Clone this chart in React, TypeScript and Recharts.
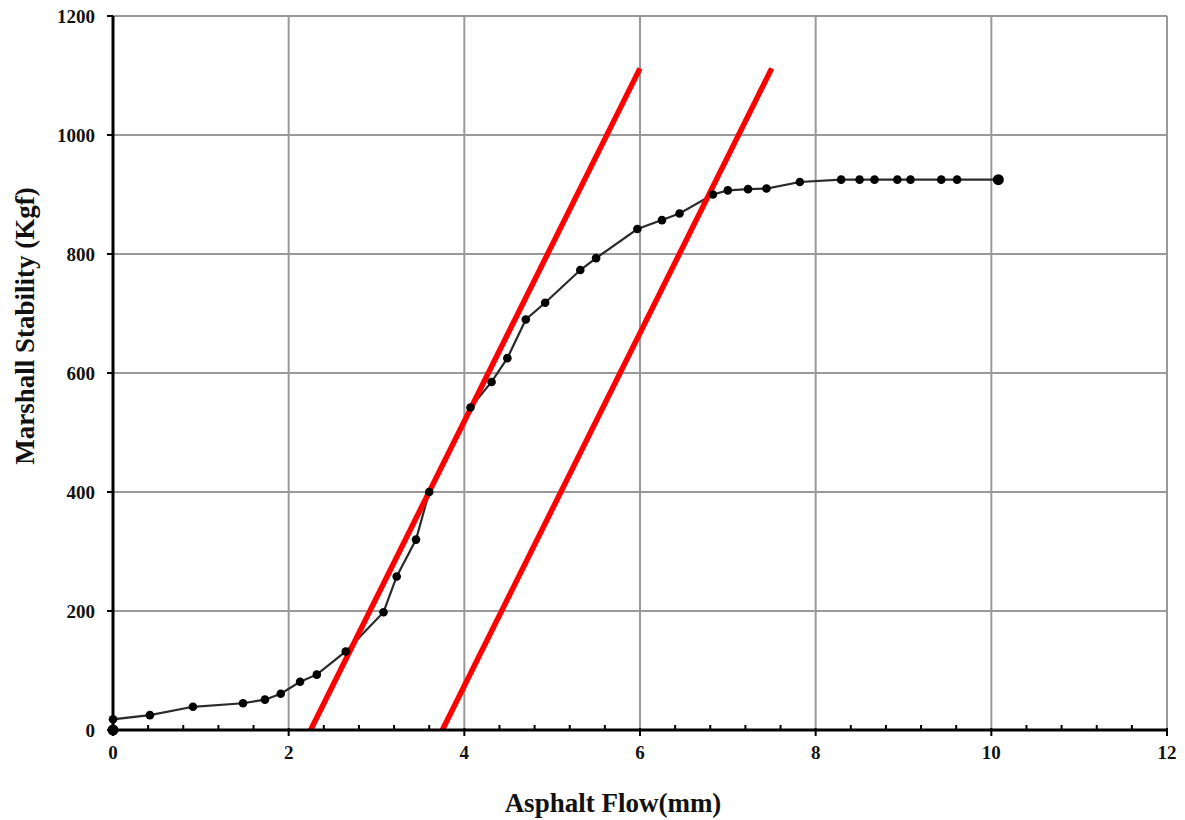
import {
  CartesianGrid,
  ComposedChart,
  Label,
  Line,
  XAxis,
  YAxis,
} from "recharts";

// measured flow (mm) vs stability (Kgf)
const flow = [
  0, 0, 0.42, 0.91, 1.48, 1.73, 1.91, 2.13, 2.32, 2.65, 3.08, 3.23, 3.45, 3.6,
  4.07, 4.31, 4.49, 4.7, 4.92, 5.32, 5.5, 5.97, 6.25, 6.45, 6.83, 7.0, 7.23,
  7.44, 7.82, 8.29, 8.5, 8.67, 8.93, 9.08, 9.43, 9.61, 10.08,
];
const stability = [
  0, 18, 25, 39, 45, 51, 61, 81, 93, 132, 198, 258, 320, 400, 542, 585, 625,
  690, 718, 773, 793, 842, 857, 868, 900, 907, 909, 910, 921, 925, 925, 925,
  925, 925, 925, 925, 925,
];

// tangent lines
const tangentA = [
  { x: 2.25, y: 0 },
  { x: 6.0, y: 1112 },
];
const tangentB = [
  { x: 3.75, y: 0 },
  { x: 7.5, y: 1112 },
];

const xMajorTicks = [0, 2, 4, 6, 8, 10, 12];
const xMinorTicks = [
  0.4, 0.8, 1.2, 1.6, 2.4, 2.8, 3.2, 3.6, 4.4, 4.8, 5.2, 5.6, 6.4, 6.8, 7.2,
  7.6, 8.4, 8.8, 9.2, 9.6, 10.4, 10.8, 11.2, 11.6,
];
const yTicks = [0, 200, 400, 600, 800, 1000, 1200];

const curve = flow.map((x, i) => ({ x, y: stability[i] }));
const allXTicks = [...xMajorTicks, ...xMinorTicks].sort((a, b) => a - b);

const FONT = "'Liberation Serif', 'Times New Roman', serif";
const tickStyle = { fontFamily: FONT, fontWeight: 700, fontSize: 19, fill: "#111" };
const TICK_SIZE = 6;
const TICK_MARGIN = 10;

function XTick(props: any) {
  const { x, y, payload } = props;
  const axisY = y - TICK_SIZE - TICK_MARGIN;
  const major = xMajorTicks.includes(payload.value);
  if (!major) {
    return <line x1={x} x2={x} y1={axisY - 5} y2={axisY} stroke="#000" strokeWidth={2} />;
  }
  return (
    <g>
      <line x1={x} x2={x} y1={axisY - 2} y2={axisY + TICK_SIZE} stroke="#000" strokeWidth={2} />
      <text x={x} y={y} dy="0.71em" textAnchor="middle" style={tickStyle}>
        {payload.value}
      </text>
    </g>
  );
}

export default function App() {
  const last = curve.length - 1;
  return (
    <div style={{ position: "absolute", left: 0, top: 0, background: "#fff" }}>
      <ComposedChart
        width={1185}
        height={820}
        margin={{ top: 16, right: 18, bottom: 0, left: 0 }}
      >
        <CartesianGrid
          xAxisId="main"
          stroke="#999"
          strokeWidth={2}
          verticalValues={xMajorTicks}
        />
        <XAxis
          xAxisId="main"
          type="number"
          dataKey="x"
          domain={[0, 12]}
          ticks={allXTicks}
          interval={0}
          height={90}
          tick={<XTick />}
          tickSize={TICK_SIZE}
          tickMargin={TICK_MARGIN}
          axisLine={{ stroke: "#000", strokeWidth: 3 }}
          tickLine={{ stroke: "none" }}
        >
          <Label
            content={({ viewBox }: any) => (
              <text
                x={viewBox.x + viewBox.width / 2 - 27}
                y={viewBox.y + 82}
                textAnchor="middle"
                style={{ fontFamily: FONT, fontWeight: 700, fontSize: 27, fill: "#111" }}
              >
                Asphalt Flow(mm)
              </text>
            )}
          />
        </XAxis>
        <YAxis
          type="number"
          domain={[0, 1200]}
          ticks={yTicks}
          width={113}
          tick={tickStyle}
          tickSize={6}
          tickMargin={12}
          axisLine={{ stroke: "#000", strokeWidth: 3 }}
          tickLine={{ stroke: "#000", strokeWidth: 2 }}
        >
          <Label
            content={({ viewBox }: any) => {
              const cx = viewBox.x + 25;
              const cy = viewBox.y + viewBox.height / 2 - 47;
              return (
                <text
                  x={cx}
                  y={cy}
                  transform={`rotate(-90 ${cx} ${cy})`}
                  textAnchor="middle"
                  dominantBaseline="central"
                  style={{ fontFamily: FONT, fontWeight: 700, fontSize: 27, fill: "#111" }}
                >
                  Marshall Stability (Kgf)
                </text>
              );
            }}
          />
        </YAxis>
        <Line
          xAxisId="main"
          data={curve}
          dataKey="y"
          type="linear"
          stroke="#2a2a2a"
          strokeWidth={2.2}
          isAnimationActive={false}
          dot={(p: any) => (
            <circle
              key={p.index}
              cx={p.cx}
              cy={p.cy}
              r={p.index === 0 || p.index === last ? 5.5 : 4.3}
              fill="#000"
            />
          )}
          activeDot={false}
        />
        <Line
          xAxisId="main"
          data={tangentA}
          dataKey="y"
          type="linear"
          stroke="#ff0000"
          strokeWidth={5.5}
          dot={false}
          activeDot={false}
          isAnimationActive={false}
        />
        <Line
          xAxisId="main"
          data={tangentB}
          dataKey="y"
          type="linear"
          stroke="#ff0000"
          strokeWidth={5.5}
          dot={false}
          activeDot={false}
          isAnimationActive={false}
        />
      </ComposedChart>
    </div>
  );
}
